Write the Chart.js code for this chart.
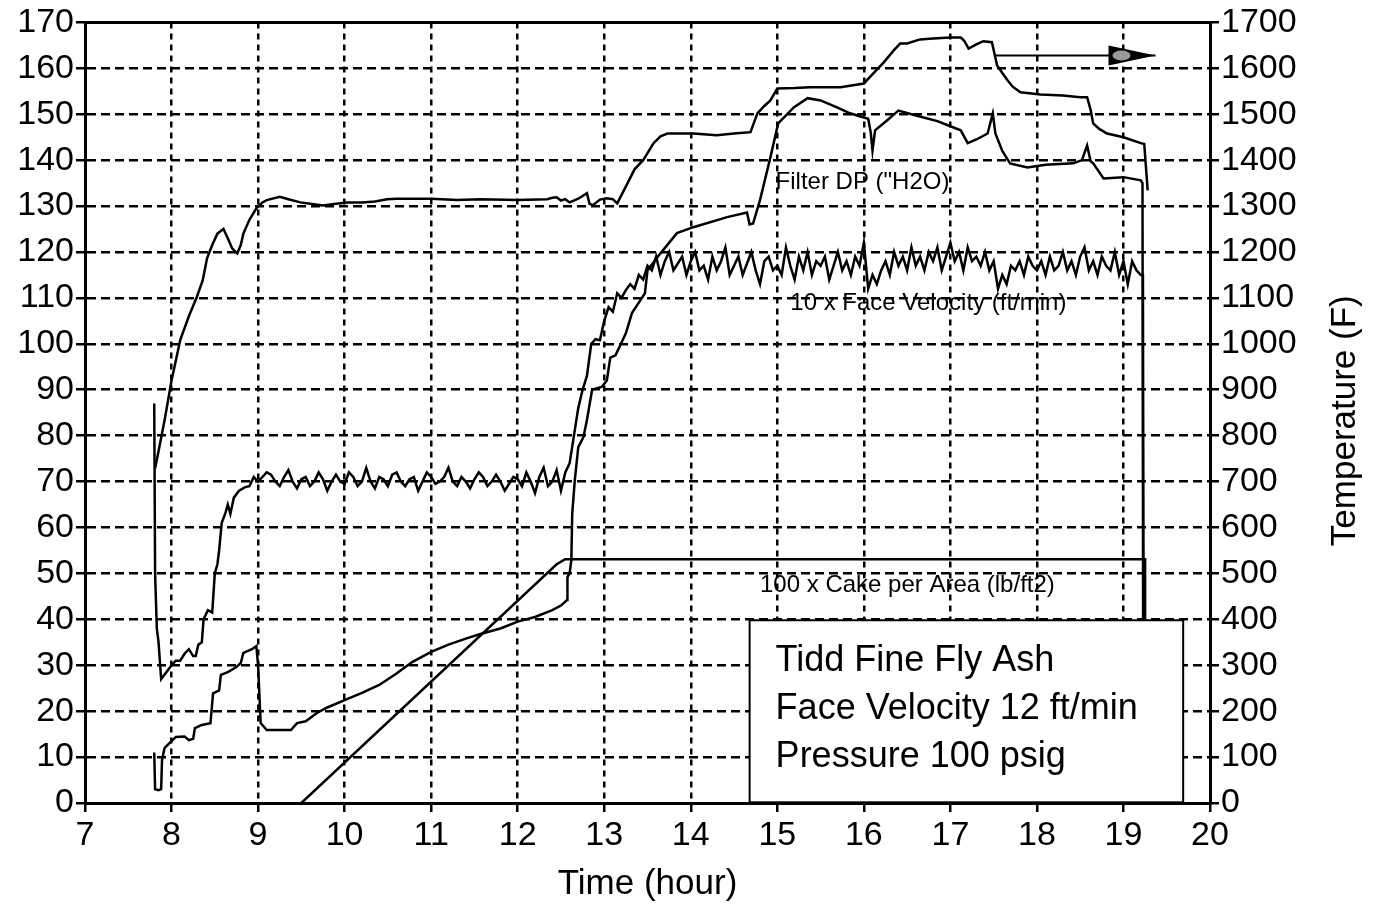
<!DOCTYPE html>
<html>
<head>
<meta charset="utf-8">
<script src="https://cdn.jsdelivr.net/npm/chart.js@4.4.1/dist/chart.umd.min.js"></script>
<style>
  html, body { margin: 0; padding: 0; background: #fff; }
  #wrap { width: 1381px; height: 909px; position: relative; }
</style>
</head>
<body>
<div id="wrap"><canvas id="chart"></canvas></div>
<script>
// temperature (F), right axis
const tempTime = [7.81,7.83,7.92,8.0,8.1,8.2,8.29,8.36,8.41,8.47,8.53,8.6,8.65,8.7,8.76,8.8,8.83,8.9,8.98,9.05,
  9.1,9.25,9.35,9.49,9.6,9.75,9.9,10.03,10.2,10.35,10.49,10.6,11.0,11.3,11.57,12.0,12.34,12.4,12.45,12.5,
  12.55,12.6,12.7,12.75,12.8,12.83,12.87,12.95,13.03,13.1,13.15,13.27,13.35,13.45,13.57,13.65,13.73,14.03,14.3,14.5,
  14.69,14.77,14.85,14.92,15.0,15.2,15.38,15.73,16.0,16.11,16.23,16.35,16.42,16.5,16.65,16.8,17.0,17.12,17.16,17.21,
  17.3,17.38,17.48,17.54,17.6,17.66,17.72,17.81,18.04,18.3,18.5,18.58,18.62,18.65,18.72,18.81,19.0,19.2,19.24,19.28];
const temperature = [729,747,834,920,1008,1060,1101,1138,1186,1215,1240,1250,1230,1208,1197,1215,1240,1270,1295,1308,
  1313,1320,1315,1308,1305,1301,1305,1308,1308,1310,1315,1316,1316,1313,1315,1313,1315,1318,1319,1312,
  1315,1308,1316,1322,1328,1305,1302,1314,1317,1315,1306,1350,1380,1400,1437,1452,1458,1458,1454,1458,
  1461,1502,1518,1530,1556,1557,1559,1559,1567,1589,1613,1640,1654,1654,1663,1665,1667,1667,1660,1643,
  1652,1659,1657,1606,1590,1574,1560,1548,1543,1541,1537,1537,1510,1480,1468,1458,1450,1437,1435,1334];

// filter DP ("H2O)
const dpTime = [7.8,7.81,7.85,7.88,7.89,7.92,8.0,8.05,8.15,8.2,8.25,8.27,8.35,8.45,8.48,8.55,8.57,8.65,8.75,8.8,
  8.83,8.93,8.98,9.0,9.03,9.1,9.3,9.38,9.45,9.55,9.68,9.8,10.0,10.2,10.4,10.6,10.78,11.0,11.2,11.4,
  11.57,11.8,12.0,12.2,12.4,12.5,12.57,12.575,12.6,12.62,12.63,12.66,12.7,12.76,12.8,12.86,12.97,13.03,13.07,13.13,
  13.25,13.32,13.47,13.5,13.65,13.84,14.03,14.42,14.65,14.68,14.72,14.8,14.92,15.01,15.19,15.35,15.5,15.69,15.84,15.96,
  16.05,16.08,16.1,16.13,16.27,16.4,16.55,16.69,16.85,16.97,17.12,17.2,17.3,17.43,17.49,17.52,17.6,17.69,17.89,18.1,
  18.42,18.52,18.58,18.62,18.65,18.77,19.0,19.2,19.22,19.23];
const filterDP = [11,3,2.8,3,9.4,12,13.5,14.4,14.5,13.7,14,16.3,17,17.4,23.9,24.5,27.9,28.5,29.6,30.5,
  32.7,33.5,34.2,30,17.4,15.9,15.9,15.9,17.4,17.8,19.6,20.8,22.4,24,25.7,28.2,30.7,32.9,34.5,35.8,
  36.8,38,39.5,40.5,42,43,44.2,49.2,50,52.9,63,70.3,77.5,79.7,83.4,90,90.6,92,97,97.5,
  102.3,106.7,111,116,119.7,124.1,125.4,127.6,128.6,126,126.2,131.3,140.6,148,151.5,153.5,153,151.5,150.2,149.5,
  149,146,142.1,146.5,148.7,150.8,150,149.3,148.5,147.6,146.5,143.7,144.5,145.8,150.2,145.8,142,139.3,138.4,139,
  139.3,140,143.2,139.8,139.3,136,136.3,135.6,135,0];

// 10 x face velocity (ft/min)
const fvTime = [7.8,7.81,7.83,7.85,7.88,7.92,8.0,8.05,8.1,8.15,8.2,8.25,8.28,8.31,8.35,8.37,8.42,8.47,8.5,8.53,
  8.55,8.58,8.62,8.65,8.68,8.72,8.78,8.85,8.9,8.95,9.0,
  9.05,9.1,9.15,9.2,9.25,9.3,9.35,9.4,9.45,9.5,
  9.55,9.6,9.65,9.7,9.75,9.8,9.85,9.9,9.95,10,
  10.05,10.1,10.15,10.2,10.25,10.3,10.35,10.4,10.45,10.5,
  10.55,10.6,10.65,10.7,10.75,10.8,10.85,10.9,10.95,11,
  11.05,11.1,11.15,11.2,11.25,11.3,11.35,11.4,11.45,11.5,
  11.55,11.6,11.65,11.7,11.75,11.8,11.85,11.9,11.95,12,
  12.05,12.1,12.15,12.2,12.25,12.3,12.35,12.4,12.45,12.5,
  12.55,12.6,12.65,12.7,12.75,12.8,12.85,12.9,12.95,13.0,13.05,13.1,13.15,13.2,13.25,13.3,13.35,13.4,13.45,13.5,
  13.55,13.6,13.65,13.7,13.75,13.8,13.85,13.9,13.95,14,
  14.05,14.1,14.15,14.2,14.25,14.3,14.35,14.4,14.45,14.5,
  14.55,14.6,14.65,14.7,14.75,14.8,14.85,14.9,14.95,15,
  15.05,15.1,15.15,15.2,15.25,15.3,15.35,15.4,15.45,15.5,
  15.55,15.6,15.65,15.7,15.75,15.8,15.85,15.9,15.95,16,
  16.05,16.1,16.15,16.2,16.25,16.3,16.35,16.4,16.45,16.5,
  16.55,16.6,16.65,16.7,16.75,16.8,16.85,16.9,16.95,17,
  17.05,17.1,17.15,17.2,17.25,17.3,17.35,17.4,17.45,17.5,
  17.55,17.6,17.65,17.7,17.75,17.8,17.85,17.9,17.95,18,
  18.05,18.1,18.15,18.2,18.25,18.3,18.35,18.4,18.45,18.5,
  18.55,18.6,18.65,18.7,18.75,18.8,18.85,18.9,18.95,19,
  19.05,19.1,19.15,19.2,19.225,19.235];
const faceVelocity10 = [87,50,38,35,27,28,30,31,31,32.5,33.5,32,32,34.5,35,40,42,41.5,50,52,
  55,61,63,65,63,66.5,68,68.8,69,71,70,
  71,72,71.5,70,69,71,72.5,70,68.5,70.5,
  71,69,70,72,70.5,68,70,71.5,70,69.5,
  72,71,69,70,73,70,68.5,71,70.5,69,
  71.5,72,70,69,70.5,71,68,70,72,71,
  69.5,70,71,73,70,69,71,70,68.5,70.5,
  72,71,69,70,71.5,70,68,69.5,71,70.5,
  69,72,70,67.5,71,73,69,70,72.5,68,
  72,74,80,86,90,93,100,101,100.8,105,108,107,111,110,111.7,113,112,115,114,117,
  116,119,115,118,120,116,117.5,119,115,118,
  120,116,117,114,119,116,118,121,115,117,
  119,115,117.5,120,116,113,118,119,116,117,
  115,121,117,114,119,116,120,115,118,117,
  119,114,117,120,116,118,115,119,117,122,
  112,115,113,116,118,115,120,117,119,116,
  121,117,119,116,120,118,121,116,119,122,
  118,120,116,121,118,119,117,120,116,118,
  112,115,113,117,116,118,115,119,117,116,
  118,115,119,116,117,120,116,118,115,119,
  121,116,118,115,119,117,116,120,115,118,
  113,118,116,115,115,0];

// 100 x cake per area (lb/ft2)
const cakeTime = [9.5,12.45,12.55,19.25,19.25];
const cake100 = [0,52,53.1,53.1,0];

// arrow pointing to the temperature axis
const arrowTime = [17.52,19.37];
const arrowLevel = [162.8,162.8];

const curveLabels = ['Filter DP ("H2O)', '10 x Face Velocity (ft/min)', '100 x Cake per Area (lb/ft2)'];
const boxLines = ['Tidd Fine Fly Ash', 'Face Velocity 12 ft/min', 'Pressure 100 psig'];
const rightTitle = 'Temperature (F)';

const pts = (xs, ys) => xs.map((x, i) => ({ x: x, y: ys[i] }));
const FONT = '"Liberation Sans", Arial, sans-serif';

const extras = {
    id: 'extras',
    afterDatasetsDraw(chart) {
        const { ctx, chartArea, scales } = chart;
        const x = scales.x, y = scales.y;
        ctx.save();
        // top frame line
        ctx.strokeStyle = '#000';
        ctx.lineWidth = 3;
        ctx.beginPath();
        ctx.moveTo(chartArea.left, chartArea.top);
        ctx.lineTo(chartArea.right, chartArea.top);
        ctx.stroke();

        // arrow head
        const ax = x.getPixelForValue(arrowTime[1]);
        const ay = y.getPixelForValue(arrowLevel[1]);
        ctx.beginPath();
        ctx.moveTo(ax, ay);
        ctx.lineTo(ax - 47, ay - 10);
        ctx.lineTo(ax - 47, ay + 10);
        ctx.closePath();
        ctx.fillStyle = '#000';
        ctx.fill();
        ctx.fillStyle = '#999';
        ctx.beginPath();
        ctx.ellipse(ax - 34, ay, 9, 5, 0, 0, Math.PI * 2);
        ctx.fill();

        // curve labels
        ctx.fillStyle = '#000';
        ctx.textBaseline = 'middle';
        ctx.textAlign = 'left';
        ctx.font = '24px ' + FONT;
        const lp = [[14.98, 135.2], [15.15, 108.8], [14.8, 47.5]];
        curveLabels.forEach((t, i) => ctx.fillText(t, x.getPixelForValue(lp[i][0]), y.getPixelForValue(lp[i][1])));

        // info box
        const bx1 = x.getPixelForValue(14.68), bx2 = x.getPixelForValue(19.69);
        const by1 = y.getPixelForValue(39.8), by2 = y.getPixelForValue(0.15);
        ctx.fillStyle = '#fff';
        ctx.fillRect(bx1, by1, bx2 - bx1, by2 - by1);
        ctx.lineWidth = 2;
        ctx.strokeRect(bx1, by1, bx2 - bx1, by2 - by1);
        ctx.fillStyle = '#000';
        ctx.font = '36px ' + FONT;
        boxLines.forEach((t, i) => ctx.fillText(t, bx1 + 26, by1 + 41 + i * 48));

        // right axis title, reading bottom to top
        ctx.translate(1345, (chartArea.top + chartArea.bottom) / 2 + 8);
        ctx.rotate(-Math.PI / 2);
        ctx.textAlign = 'center';
        ctx.font = '35px ' + FONT;
        ctx.fillText(rightTitle, 0, 0);
        ctx.restore();
    }
};

const lineDs = (label, data, axis, width) => ({
    label: label,
    data: data,
    yAxisID: axis,
    borderColor: '#000',
    borderWidth: width,
    pointRadius: 0,
    tension: 0,
    fill: false
});

const gridOpts = {
    color: '#000',
    lineWidth: 2.5,
    tickLength: 9,
    tickWidth: 2.5,
    tickBorderDash: []
};

new Chart(document.getElementById('chart').getContext('2d'), {
    type: 'line',
    data: {
        datasets: [
            lineDs('Temperature', pts(tempTime, temperature), 'y1', 2.5),
            lineDs('Filter DP', pts(dpTime, filterDP), 'y', 2.5),
            lineDs('Face Velocity', pts(fvTime, faceVelocity10), 'y', 2.5),
            lineDs('Cake', pts(cakeTime, cake100), 'y', 2.5),
            lineDs('Arrow', pts(arrowTime, arrowLevel), 'y', 2)
        ]
    },
    options: {
        responsive: true,
        maintainAspectRatio: false,
        animation: false,
        layout: { padding: { top: 22, right: 0, left: 0, bottom: 0 } },
        plugins: { legend: { display: false }, tooltip: { enabled: false } },
        scales: {
            x: {
                type: 'linear',
                min: 7, max: 20,
                ticks: { stepSize: 1, color: '#000', font: { family: FONT, size: 34 }, padding: 3, maxRotation: 0 },
                grid: Object.assign({}, gridOpts),
                border: { display: true, color: '#000', width: 3, dash: [6, 5] },
                title: { display: true, text: 'Time (hour)', color: '#000', font: { family: FONT, size: 35 }, padding: { top: 0, bottom: 4 } },
                afterFit: (s) => { s.height = 106; }
            },
            y: {
                position: 'left',
                min: 0, max: 170,
                ticks: { stepSize: 10, color: '#000', font: { family: FONT, size: 34 }, padding: 2 },
                grid: Object.assign({}, gridOpts),
                border: { display: true, color: '#000', width: 3, dash: [9, 5] },
                afterFit: (s) => { s.width = 85; }
            },
            y1: {
                position: 'right',
                min: 0, max: 1700,
                ticks: { stepSize: 100, color: '#000', font: { family: FONT, size: 34 }, padding: 2, callback: (v) => String(v) },
                grid: Object.assign({}, gridOpts, { drawOnChartArea: false }),
                border: { display: true, color: '#000', width: 3 },
                afterFit: (s) => { s.width = 171; }
            }
        }
    },
    plugins: [extras]
});
</script>
</body>
</html>
